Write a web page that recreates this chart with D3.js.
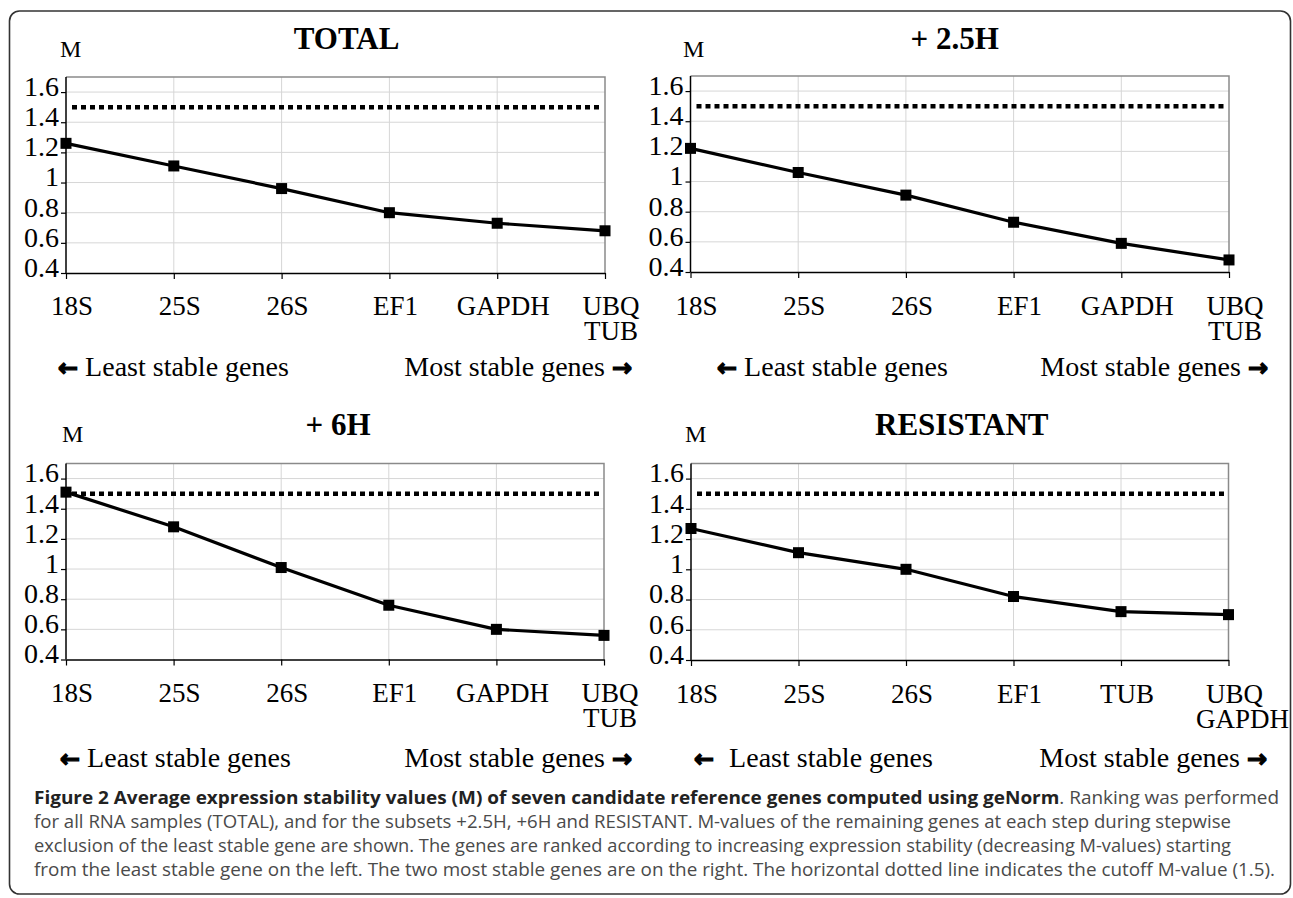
<!DOCTYPE html>
<html>
<head>
<meta charset="utf-8">
<script src="https://cdn.jsdelivr.net/npm/d3@7/dist/d3.min.js"></script>
<style>
  html, body { margin: 0; padding: 0; background: #fff; }
  svg { display: block; }
</style>
</head>
<body>
<svg id="chart" width="1293" height="898"></svg>
<script>
// ---------------- DATA ----------------
const titles = ["TOTAL", "+ 2.5H", "+ 6H", "RESISTANT"];
const categoriesA = ["18S", "25S", "26S", "EF1", "GAPDH", "UBQ\nTUB"];
const categoriesR = ["18S", "25S", "26S", "EF1", "TUB", "UBQ\nGAPDH"];
const valuesTotal = [1.26, 1.11, 0.96, 0.80, 0.73, 0.68];
const values25H   = [1.22, 1.06, 0.91, 0.73, 0.59, 0.48];
const values6H    = [1.51, 1.28, 1.01, 0.76, 0.60, 0.56];
const valuesRes   = [1.27, 1.11, 1.00, 0.82, 0.72, 0.70];
const yTickValues = [0.4, 0.6, 0.8, 1.0, 1.2, 1.4, 1.6];
const yTickLabels = ["0.4", "0.6", "0.8", "1", "1.2", "1.4", "1.6"];
const yDomain = [0.4, 1.7];
const cutoff = 1.5;
const axisLabel = "M";
const leastText = "Least stable genes";
const mostText = "Most stable genes";
const captionBold = "Figure 2 Average expression stability values (M) of seven candidate reference genes computed using geNorm";
const captionLines = [
  ". Ranking was performed",
  "for all RNA samples (TOTAL), and for the subsets +2.5H, +6H and RESISTANT. M-values of the remaining genes at each step during stepwise",
  "exclusion of the least stable gene are shown. The genes are ranked according to increasing expression stability (decreasing M-values) starting",
  "from the least stable gene on the left. The two most stable genes are on the right. The horizontal dotted line indicates the cutoff M-value (1.5)."
];

// ---------------- LAYOUT ----------------
const panels = [
  {title: titles[0], cats: categoriesA, vals: valuesTotal,
   x0: 66, x1: 605, yT: 77, yB: 273, titleDx: 11, titleY: 49, mX: 60, mY: 57,
   lblY: 315, legY: 376, legL: 58, legR: 632, legGap: 0},
  {title: titles[1], cats: categoriesA, vals: values25H,
   x0: 690.5, x1: 1229, yT: 76, yB: 272, titleDx: -5, titleY: 49, mX: 683, mY: 57,
   lblY: 315, legY: 376, legL: 717, legR: 1268, legGap: 0},
  {title: titles[2], cats: categoriesA, vals: values6H,
   x0: 66, x1: 604, yT: 463.5, yB: 659.5, titleDx: 3, titleY: 435, mX: 62, mY: 442,
   lblY: 702, legY: 767, legL: 60, legR: 632, legGap: 0},
  {title: titles[3], cats: categoriesR, vals: valuesRes,
   x0: 691, x1: 1228.5, yT: 463.5, yB: 660, titleDx: 2, titleY: 435, mX: 685, mY: 442,
   lblY: 702.5, legY: 767, legL: 694, legR: 1267, legGap: 8}
];

const svg = d3.select("#chart");
const serif = "'Liberation Serif', 'Times New Roman', serif";
const arrowFont = "'DejaVu Sans', sans-serif";

// outer frame
svg.append("rect")
  .attr("x", 9.5).attr("y", 11).attr("width", 1281).attr("height", 883)
  .attr("rx", 10).attr("ry", 10)
  .attr("fill", "none").attr("stroke", "#333").attr("stroke-width", 1.6);

function drawPanel(p) {
  const g = svg.append("g");
  const x = d3.scalePoint().domain(p.cats).range([p.x0, p.x1]).padding(0);
  const y = d3.scaleLinear().domain(yDomain).range([p.yB, p.yT]);

  // gridlines
  g.append("g").selectAll("line").data(yTickValues.filter(v => v > yDomain[0]))
    .join("line")
    .attr("x1", p.x0).attr("x2", p.x1)
    .attr("y1", d => y(d)).attr("y2", d => y(d))
    .attr("stroke", "#d6d6d6").attr("stroke-width", 1);
  g.append("g").selectAll("line").data(p.cats.slice(1, -1))
    .join("line")
    .attr("x1", d => x(d)).attr("x2", d => x(d))
    .attr("y1", p.yT).attr("y2", p.yB)
    .attr("stroke", "#d6d6d6").attr("stroke-width", 1);

  // top & right border (grey)
  g.append("path")
    .attr("d", `M${p.x0},${p.yT}H${p.x1}V${p.yB}`)
    .attr("fill", "none").attr("stroke", "#8a8a8a").attr("stroke-width", 1.5);

  // y axis
  const ya = g.append("g").attr("transform", `translate(${p.x0},0)`)
    .call(d3.axisLeft(y).tickValues(yTickValues)
      .tickFormat((d, i) => yTickLabels[i]).tickSize(5).tickSizeOuter(0).tickPadding(2));
  ya.select(".domain").attr("d", `M0,${p.yT}V${p.yB}`).attr("stroke", "#000").attr("stroke-width", 1.5);
  ya.selectAll(".tick line").attr("stroke", "#000").attr("stroke-width", 1.2);
  ya.selectAll(".tick text")
    .attr("font-family", serif).attr("font-size", 28).attr("fill", "#000")
    .attr("dy", "0.12em");

  // x axis
  const xa = g.append("g").attr("transform", `translate(0,${p.yB})`)
    .call(d3.axisBottom(x).tickSize(6).tickSizeOuter(0).tickFormat(""));
  xa.select(".domain").attr("stroke", "#000").attr("stroke-width", 1.5);
  xa.selectAll(".tick line").attr("stroke", "#000").attr("stroke-width", 1.2);

  // x labels (multi-line labels as tspans of one text)
  p.cats.forEach(c => {
    const lines = c.split("\n");
    const t = g.append("text")
      .attr("y", p.lblY)
      .attr("text-anchor", "middle")
      .attr("font-family", serif).attr("font-size", 27).attr("fill", "#000");
    lines.forEach((ln, i) => {
      t.append("tspan")
        .attr("x", x(c) + 6 + (i > 0 && ln.length > 3 ? 8 : 0))
        .attr("dy", i === 0 ? 0 : 25)
        .text(ln);
    });
  });

  // cutoff dotted line
  g.append("line")
    .attr("x1", p.x0 + 6).attr("x2", p.x1 - 3)
    .attr("y1", y(cutoff)).attr("y2", y(cutoff))
    .attr("stroke", "#000").attr("stroke-width", 4.5)
    .attr("stroke-dasharray", "5,4");

  // data line
  const line = d3.line().x((d, i) => x(p.cats[i])).y(d => y(d));
  g.append("path").datum(p.vals)
    .attr("d", line).attr("fill", "none")
    .attr("stroke", "#000").attr("stroke-width", 3.2).attr("stroke-linejoin", "round");

  // markers
  const ms = 11;
  g.append("g").selectAll("rect").data(p.vals).join("rect")
    .attr("x", (d, i) => x(p.cats[i]) - ms / 2)
    .attr("y", d => y(d) - ms / 2)
    .attr("width", ms).attr("height", ms)
    .attr("fill", "#000");

  // title
  g.append("text")
    .attr("x", (p.x0 + p.x1) / 2 + p.titleDx).attr("y", p.titleY)
    .attr("text-anchor", "middle")
    .attr("font-family", serif).attr("font-weight", "bold").attr("font-size", 31)
    .attr("fill", "#000").text(p.title);

  // M label
  g.append("text")
    .attr("x", p.mX).attr("y", p.mY)
    .attr("font-family", serif).attr("font-size", 24).attr("fill", "#000")
    .text(axisLabel);

  // least / most stable
  const lt = g.append("text")
    .attr("x", p.legL).attr("y", p.legY)
    .attr("font-family", serif).attr("font-size", 28).attr("fill", "#000");
  lt.append("tspan").attr("font-family", arrowFont)
    .attr("font-weight", "bold").attr("font-size", 24)
    .attr("stroke", "#000").attr("stroke-width", 1.3).text("\u2190");
  lt.append("tspan").attr("dx", 7 + p.legGap).text(leastText);

  const mt = g.append("text")
    .attr("x", p.legR).attr("y", p.legY)
    .attr("text-anchor", "end")
    .attr("font-family", serif).attr("font-size", 28).attr("fill", "#000");
  mt.append("tspan").text(mostText);
  mt.append("tspan").attr("dx", 7).attr("font-family", arrowFont)
    .attr("font-weight", "bold").attr("font-size", 24)
    .attr("stroke", "#000").attr("stroke-width", 1.3).text("\u2192");
}

panels.forEach(drawPanel);

// caption
const capX = 34;
const capY = [804, 828, 852, 876];
const capW = [1245, 1197, 1197, 1241];
const capFont = "'Open Sans', 'Noto Sans', sans-serif";
captionLines.forEach((ln, i) => {
  const t = svg.append("text")
    .attr("x", capX).attr("y", capY[i])
    .attr("font-family", capFont).attr("font-size", 18).attr("fill", "#4a4a4a")
    .attr("textLength", capW[i]).attr("lengthAdjust", "spacingAndGlyphs");
  if (i === 0) {
    t.append("tspan").attr("font-weight", "bold").attr("fill", "#222").text(captionBold);
  }
  t.append("tspan").text(ln);
});
</script>
</body>
</html>
